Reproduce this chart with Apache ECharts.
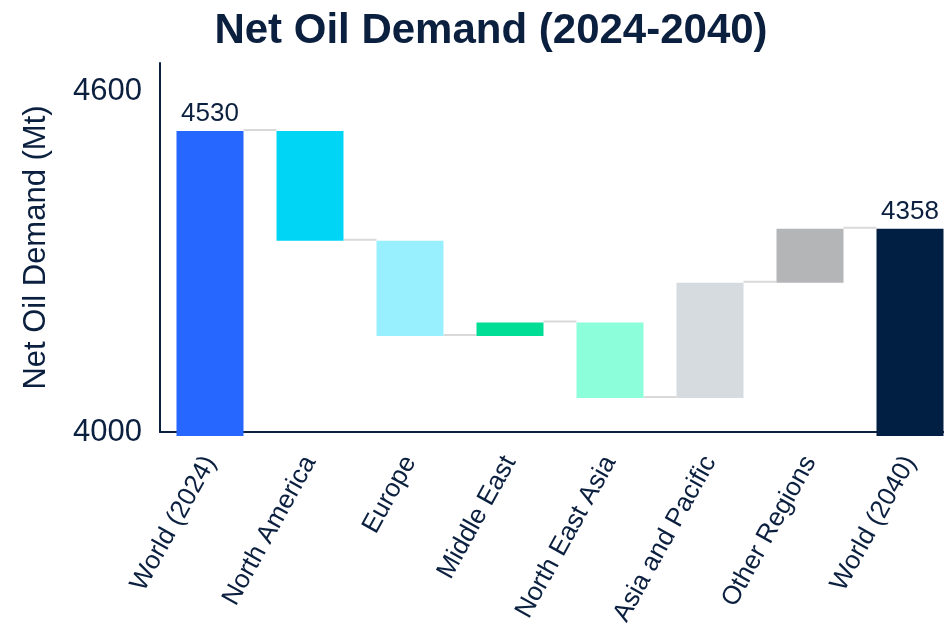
<!DOCTYPE html>
<html>
<head>
<meta charset="utf-8">
<script src="https://cdn.jsdelivr.net/npm/echarts@6/dist/echarts.min.js"></script>
<style>html,body{margin:0;padding:0;background:#fff;}#chart{width:944px;height:627px;}</style>
</head>
<body>
<div id="chart"></div>
<script>
// ---- data ----
const categories = ['World (2024)', 'North America', 'Europe', 'Middle East', 'North East Asia', 'Asia and Pacific', 'Other Regions', 'World (2040)'];
const startTotal = 4530;
const regionChanges = [-193, -168, 24, -133, 203, 95];
const endTotal = 4358;
const yTickValues = [4000, 4600];

// ---- style ----
const barColors = ['#2567FF', '#00D5F5', '#98F0FF', '#00DD94', '#8CFFDA', '#D6DBE0', '#B4B5B7', '#001F42'];
const navy = '#0B1F3F';
const FONT = '"Liberation Sans", Arial, sans-serif';
const BAR_FLOOR = 3993;

// build waterfall items
const barData = [];
const levels = [];
let cum = startTotal;
barData.push([0, BAR_FLOOR, startTotal, 1]);
levels.push([0, startTotal]);
regionChanges.forEach((d, k) => {
  const next = cum + d;
  barData.push([k + 1, Math.min(cum, next), Math.max(cum, next), 0]);
  cum = next;
  levels.push([k + 1, cum]);
});
barData.push([categories.length - 1, BAR_FLOOR, endTotal, 1]);

const chart = echarts.init(document.getElementById('chart'));
chart.setOption({
  animation: false,
  backgroundColor: '#ffffff',
  title: {
    text: 'Net Oil Demand (2024-2040)',
    left: 486, textAlign: 'center', top: 5,
    textStyle: { fontFamily: FONT, fontSize: 42, fontWeight: 'bold', color: navy }
  },
  grid: { left: 160, top: 63, width: 800, height: 369, outerBoundsMode: 'none', containLabel: false },
  xAxis: {
    type: 'category',
    data: categories,
    axisLine: { lineStyle: { color: navy, width: 2 } },
    axisTick: { show: false },
    axisLabel: {
      interval: 0, rotate: 61, margin: 26,
      fontFamily: FONT, fontSize: 26, color: navy
    }
  },
  yAxis: {
    type: 'value',
    min: yTickValues[0], max: 4650, interval: yTickValues[1] - yTickValues[0],
    name: 'Net Oil Demand (Mt)',
    nameLocation: 'middle', nameGap: 108, nameRotate: 90,
    nameTextStyle: { fontFamily: FONT, fontSize: 31, color: navy },
    axisLine: { show: true, lineStyle: { color: navy, width: 2 } },
    axisTick: { show: false },
    splitLine: { show: false },
    axisLabel: {
      showMaxLabel: false, margin: 18,
      fontFamily: FONT, fontSize: 31, color: navy,
      formatter: v => (yTickValues.indexOf(v) >= 0 ? String(v) : '')
    }
  },
  series: [
    {
      type: 'custom',
      clip: false,
      z: 2,
      encode: { x: 0, y: [1, 2] },
      data: levels,
      renderItem: function (params, api) {
        const i = api.value(0);
        if (i >= categories.length - 1) return null;
        const p = api.coord([i, api.value(1)]);
        const band = api.size([1, 0])[0];
        const w = band * 0.67;
        return {
          type: 'line',
          shape: { x1: p[0] + w / 2, y1: p[1] - 1, x2: p[0] + band - w / 2, y2: p[1] - 1 },
          style: { stroke: '#D9D9D9', lineWidth: 2 }
        };
      }
    },
    {
      type: 'custom',
      clip: false,
      z: 3,
      encode: { x: 0, y: [1, 2] },
      data: barData,
      renderItem: function (params, api) {
        const i = api.value(0);
        const lo = api.value(1), hi = api.value(2), isTotal = api.value(3);
        const pTop = api.coord([i, hi]);
        const pBot = api.coord([i, lo]);
        const w = api.size([1, 0])[0] * 0.67;
        const children = [{
          type: 'rect',
          shape: { x: pTop[0] - w / 2, y: pTop[1], width: w, height: pBot[1] - pTop[1] },
          style: { fill: barColors[i] }
        }];
        if (isTotal) {
          children.push({
            type: 'text',
            style: {
              text: String(hi), x: pTop[0], y: pTop[1] - 4,
              align: 'center', verticalAlign: 'bottom',
              textAlign: 'center', textVerticalAlign: 'bottom',
              fontFamily: FONT, fontSize: 26, fill: navy
            }
          });
        }
        return { type: 'group', children: children };
      }
    }
  ]
});
</script>
</body>
</html>
